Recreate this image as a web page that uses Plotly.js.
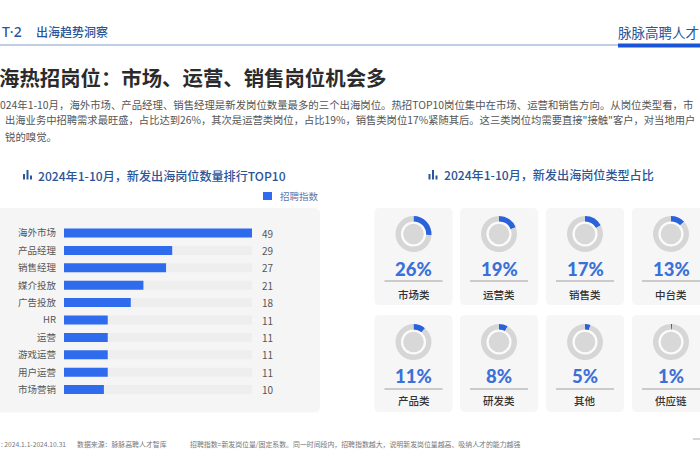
<!DOCTYPE html>
<html>
<head>
<meta charset="utf-8">
<script src="https://cdn.plot.ly/plotly-3.0.1.min.js"></script>
<style>html,body{margin:0;padding:0;background:#fff;overflow:hidden}</style>
</head>
<body>
<div id="chart" style="width:700px;height:470px"></div>
<script>
var jobNames = ['海外市场', '产品经理', '销售经理', '媒介投放', '广告投放', 'HR', '运营', '游戏运营', '用户运营', '市场营销'];
// printed numbers
var jobValues = [49, 29, 27, 21, 18, 11, 11, 11, 11, 10];
// bar lengths, they are not quite the printed numbers
var jobLengths = [49, 28.2, 26.6, 20.7, 17.4, 11.4, 11.4, 11.4, 11.4, 10.4];
var jobMax = 49;

var typeNames = ['市场类', '运营类', '销售类', '中台类', '产品类', '研发类', '其他', '供应链'];
var typeShares = [26, 19, 17, 13, 11, 8, 5, 1];

// the reference page is cropped left and right, so these stop where its text stops
var bodyLines = [
  '024年1-10月，海外市场、产品经理、销售经理是新发岗位数量最多的三个出海岗位。热招TOP10岗位集中在市场、运营和销售方向。从岗位类型看，市',
  '出海业务中招聘需求最旺盛，占比达到26%，其次是运营类岗位，占比19%，销售类岗位17%紧随其后。这三类岗位均需要直接"接触"客户，对当地用户',
  '锐的嗅觉。'
];

var W = 700, H = 470;
var font = 'Noto Sans CJK SC';
var blue = '#2f6bed';
var navy = '#2b5599';

function px(x) { return x / W; }
function py(y) { return 1 - y / H; }

// all the page furniture is placed in pixels, on paper coords (margins are 0)
function label(x, y, text, size, color, anchor, weight, family) {
  return {
    xref: 'paper', yref: 'paper', x: px(x), y: py(y),
    xanchor: anchor || 'left', yanchor: 'middle',
    text: text, showarrow: false, borderpad: 0, borderwidth: 0,
    font: {family: family || font, size: size, color: color, weight: weight || 400}
  };
}

function rect(x0, y0, x1, y1, color) {
  return {type: 'rect', xref: 'paper', yref: 'paper', layer: 'below',
    x0: px(x0), x1: px(x1), y0: py(y0), y1: py(y1),
    fillcolor: color, line: {width: 0}};
}

function card(x0, y0, x1, y1, r, color) {
  var p = 'M' + px(x0 + r) + ',' + py(y0) +
    ' L' + px(x1 - r) + ',' + py(y0) +
    ' Q' + px(x1) + ',' + py(y0) + ' ' + px(x1) + ',' + py(y0 + r) +
    ' L' + px(x1) + ',' + py(y1 - r) +
    ' Q' + px(x1) + ',' + py(y1) + ' ' + px(x1 - r) + ',' + py(y1) +
    ' L' + px(x0 + r) + ',' + py(y1) +
    ' Q' + px(x0) + ',' + py(y1) + ' ' + px(x0) + ',' + py(y1 - r) +
    ' L' + px(x0) + ',' + py(y0 + r) +
    ' Q' + px(x0) + ',' + py(y0) + ' ' + px(x0 + r) + ',' + py(y0) + ' Z';
  return {type: 'path', xref: 'paper', yref: 'paper', layer: 'below', path: p,
    fillcolor: color, line: {width: 0}};
}

function disc(cx, cy, r, color) {
  return {type: 'circle', xref: 'paper', yref: 'paper', layer: 'below',
    x0: px(cx - r), x1: px(cx + r), y0: py(cy + r), y1: py(cy - r),
    fillcolor: color, line: {width: 0}};
}

function hline(x0, x1, y, color, width) {
  return {type: 'line', xref: 'paper', yref: 'paper', layer: 'below',
    x0: px(x0), x1: px(x1), y0: py(y), y1: py(y),
    line: {color: color, width: width}};
}

var shapes = [
  hline(0, 618, 45, '#7f9ccb', 1),
  rect(618, 43.5, 700, 47.5, '#1a55d8'),
  card(-10, 208, 320, 412.5, 6, '#f5f5f6'),
  rect(263, 192, 272, 200, blue),
  hline(693, 700, 439, '#999999', 0.8)
];

// little bar-chart icons beside the two section titles
[23, 428.5].forEach(function (x) {
  shapes.push(rect(x, 174, x + 2, 179.5, navy));
  shapes.push(rect(x + 3.5, 170, x + 5.5, 179.5, navy));
  shapes.push(rect(x + 7, 175.5, x + 9, 179.5, navy));
});

var annotations = [
  label(22, 32, 'T·2', 14, navy, 'right', 500, 'Noto Sans'),
  label(36, 32, '出海趋势洞察', 12, navy, 'left', 500),
  label(618, 32, '脉脉高聘人才', 13.5, navy, 'left', 400),
  label(386, 76.5, '海热招岗位：市场、运营、销售岗位机会多', 20.4, '#2b2b2b', 'right', 700),
  label(0, 104, bodyLines[0], 10.4, '#555555'),
  label(5, 120, bodyLines[1], 10.3, '#555555'),
  label(5, 136, bodyLines[2], 10.4, '#555555'),
  label(38, 175, '2024年1-10月，新发出海岗位数量排行TOP10', 12.1, navy, 'left', 500),
  label(444, 174.5, '2024年1-10月，新发出海岗位类型占比', 12.1, navy, 'left', 500),
  label(280, 196, '招聘指数', 9.5, '#5a78ad'),
  label(1, 443.7, ': 2024.1.1-2024.10.31', 6.7, '#777777'),
  label(77, 443.7, '数据来源：脉脉高聘人才智库', 6.9, '#777777'),
  label(190, 443.7, '招聘指数=新发岗位量/固定系数。同一时间段内，招聘指数越大，说明新发岗位量越高、吸纳人才的能力越强', 6.9, '#777777')
];

// value labels sit a fixed gap after the end of the track
jobValues.forEach(function (v, i) {
  annotations.push({
    xref: 'x', yref: 'y', x: jobMax, y: jobNames[i], xanchor: 'left', yanchor: 'middle',
    xshift: 9, text: String(v), showarrow: false, borderwidth: 0,
    font: {family: font, size: 10, color: '#555555'}
  });
});

var data = [
  {
    type: 'bar', orientation: 'h', y: jobNames,
    x: jobNames.map(function () { return jobMax; }),
    marker: {color: '#eeeeef'}, hoverinfo: 'skip'
  },
  {
    type: 'bar', orientation: 'h', y: jobNames, x: jobLengths,
    marker: {color: blue}, name: '招聘指数'
  }
];

var cardX = [413.5, 499, 585, 671];
var rowY = [234, 342];
var cardTop = [208, 315];
var pctY = [269, 376];
var ruleY = [281, 389];
var nameY = [294, 400];

typeNames.forEach(function (name, i) {
  var cx = cardX[i % 4];
  var row = Math.floor(i / 4);
  var cy = rowY[row];
  var R = 18;
  shapes.push(card(cx - 39, cardTop[row], cx + 39, cardTop[row] + 97, 5, '#f6f6f7'));
  shapes.push(disc(cx, cy, 12.7, '#fbfbfb'));
  shapes.push(disc(cx, cy, 10.3, '#d8d8d8'));
  shapes.push(hline(cx - 29, cx + 29, ruleY[row], '#8a8a8a', 0.8));
  data.push({
    type: 'pie', values: [typeShares[i], 100 - typeShares[i]],
    labels: [name, '其余'], sort: false, direction: 'clockwise', rotation: 0, hole: 0.7,
    domain: {x: [px(cx - R), px(cx + R)], y: [py(cy + R), py(cy - R)]},
    marker: {colors: ['#2a62dc', '#d6d6d6'], line: {width: 0}},
    textinfo: 'none', showlegend: false
  });
  annotations.push(label(cx, pctY[row], typeShares[i] + '%', 18.5, '#3b70d8', 'center', 900, 'Lato'));
  annotations.push(label(cx, nameY[row], name, 10.5, '#333333', 'center', 500));
});

var layout = {
  width: W,
  height: H,
  margin: {l: 0, r: 0, t: 0, b: 0},
  paper_bgcolor: '#ffffff',
  plot_bgcolor: 'rgba(0,0,0,0)',
  showlegend: false,
  barmode: 'overlay',
  bargap: 0.48,
  xaxis: {
    domain: [px(64), px(252)], range: [0, jobMax], fixedrange: true,
    showgrid: false, zeroline: false, showline: false, showticklabels: false
  },
  yaxis: {
    domain: [py(398.3), py(224.3)], type: 'category', autorange: 'reversed', fixedrange: true,
    showgrid: false, zeroline: false, showline: false, ticks: '',
    ticklabelstandoff: 7,
    tickfont: {family: font, size: 9.5, color: '#555555'}
  },
  shapes: shapes,
  annotations: annotations
};

Plotly.newPlot('chart', data, layout, {displayModeBar: false, staticPlot: true});
</script>
</body>
</html>
